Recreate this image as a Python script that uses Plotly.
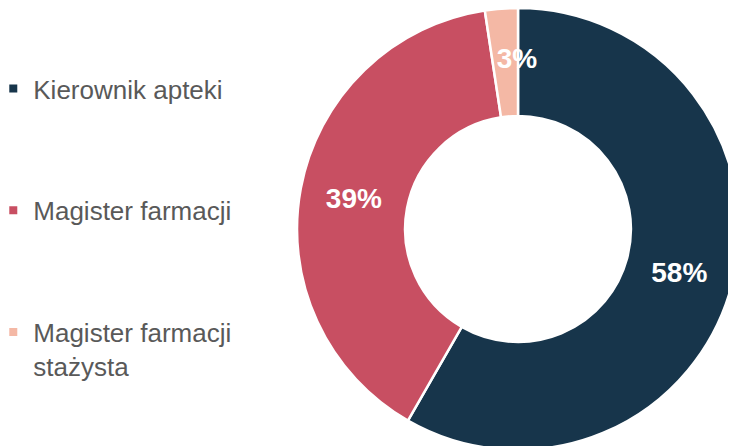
import plotly.graph_objects as go

categories = ["Kierownik apteki", "Magister farmacji", "Magister farmacji<br>stażysta"]
values = [58.3, 39.3, 2.4]
value_labels = ["58%", "39%", "3%"]
colors = ["#17354b", "#c84f62", "#f4b8a5"]

# large slices are labelled on the ring itself; the thin slice's label is drawn by a
# transparent copy of the pie with a smaller radius, so it sits in the middle of the ring
big_labels = [t if v >= 10 else "" for t, v in zip(value_labels, values)]
thin_labels = [t if v < 10 else "" for t, v in zip(value_labels, values)]

dom = dict(x=[0.3927, 0.9932], y=[0.009, 1.0])
dom_inner = dict(x=[0.4592, 0.9592], y=[0.0919, 0.9170])
label_font = dict(family="Liberation Sans, Arial, sans-serif", size=28, color="white", weight="bold")

fig = go.Figure()

fig.add_trace(go.Pie(
    labels=categories,
    values=values,
    text=big_labels,
    textinfo="text",
    textposition="inside",
    insidetextorientation="horizontal",
    textfont=label_font,
    marker=dict(colors=colors, line=dict(color="white", width=2.5)),
    hole=0.511,
    sort=False,
    direction="clockwise",
    rotation=0,
    showlegend=False,
    domain=dom,
))

fig.add_trace(go.Pie(
    labels=categories,
    values=values,
    text=thin_labels,
    textinfo="text",
    textposition="inside",
    insidetextorientation="horizontal",
    textfont=label_font,
    marker=dict(colors=["rgba(0,0,0,0)"] * len(values), line=dict(width=0)),
    hole=0.614,
    sort=False,
    direction="clockwise",
    rotation=0,
    showlegend=False,
    hoverinfo="skip",
    domain=dom_inner,
))

for i, (cat, col) in enumerate(zip(categories, colors)):
    fig.add_trace(go.Scatter(
        x=[None], y=[None], mode="markers", name=cat,
        marker=dict(symbol="square", size=8, color=col),
        legendgroup=f"g{i}", showlegend=True,
    ))

fig.update_layout(
    width=736, height=446,
    margin=dict(l=0, r=0, t=0, b=0, autoexpand=False),
    paper_bgcolor="white", plot_bgcolor="white",
    xaxis=dict(visible=False, domain=[0, 0.01]),
    yaxis=dict(visible=False, domain=[0, 0.01]),
    font=dict(family="Liberation Sans, Arial, sans-serif", color="#595959"),
    uniformtext=dict(mode="show", minsize=28),
    legend=dict(
        x=-0.02, y=0.872, xanchor="left", yanchor="top",
        font=dict(size=26, color="#595959"),
        tracegroupgap=85,
        valign="top",
        bgcolor="rgba(0,0,0,0)",
    ),
)

fig.write_html("out.html")
